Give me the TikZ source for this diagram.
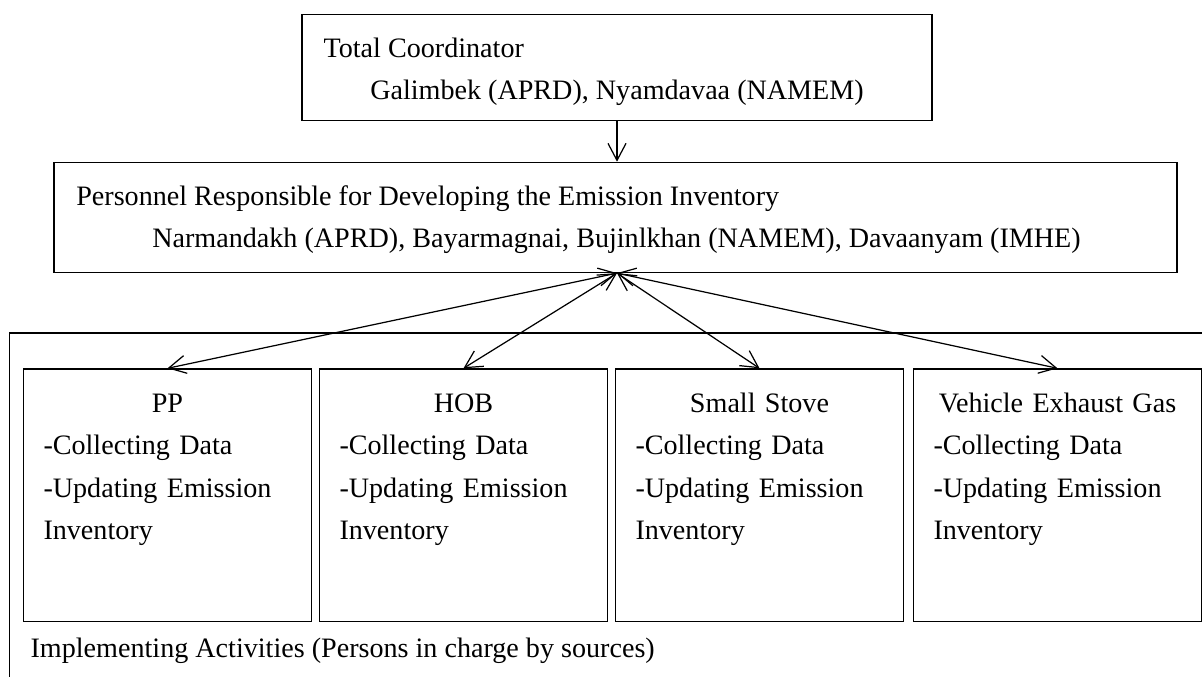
\documentclass[tikz,border=0pt]{standalone}
\usepackage{fontspec}
\setmainfont{Liberation Serif}
\usepackage{tikz}
\usetikzlibrary{arrows.meta,positioning,calc}

\begin{document}
\begin{tikzpicture}[
  line width=0.7pt,
  >={Straight Barb[length=3.4mm,width=3.6mm]},
  box/.style={rectangle, draw, inner sep=0pt},
  srcbox/.style={box, minimum width=5.76cm, minimum height=5.05cm, anchor=north},
  txt/.style={inner sep=0pt, font=\fontsize{16}{24.1}\selectfont},
  srctxt/.style={txt, text width=4.96cm, align=left, anchor=base west},
  arr/.style={<->}
]
\useasboundingbox (0,0) rectangle (24.04,-13.54);
\clip (0,0) rectangle (24.04,-13.54);

% coordinator
\node[box, minimum width=12.6cm, minimum height=2.12cm] (coord) at (12.34,-1.354) {};
\node[txt, anchor=base west] (coordhd) at (6.46,-1.16) {Total Coordinator};
\node[txt, anchor=base] (coordnm) at (12.34,-2.0) {Galimbek (APRD), Nyamdavaa (NAMEM)};

% personnel for the inventory
\node[box, minimum width=22.46cm, minimum height=2.204cm] (resp) at (12.31,-4.348) {};
\node[txt, anchor=base west] (resphd) at (1.514,-4.10) {Personnel Responsible for Developing the Emission Inventory};
\node[txt, anchor=base] (respnm) at (12.33,-4.94) {Narmandakh (APRD), Bayarmagnai, Bujinlkhan (NAMEM), Davaanyam (IMHE)};

\draw[->] (coord.south) -- (coord.south |- resp.north);

% implementing activities frame
\draw (25,-6.66) -- (0.19,-6.66) -- (0.19,-14);
\node[txt, anchor=base west] (impl) at (0.6,-13.15) {Implementing Activities (Persons in charge by sources)};

% source boxes
\node[srcbox] (pp)  at (3.35,-7.366) {};
\node[srcbox] (hob) at (9.27,-7.366) {};
\node[srcbox] (stove) at (15.19,-7.366) {};
\node[srcbox] (veh) at (21.15,-7.366) {};

\node[srctxt] at ($(pp.north west)+(0.4,-0.88)$) {\hfill PP\hfill\mbox{}\\-Collecting Data\\-Updating Emission\\Inventory};
\node[srctxt] at ($(hob.north west)+(0.4,-0.88)$) {\hfill HOB\hfill\mbox{}\\-Collecting Data\\-Updating Emission\\Inventory};
\node[srctxt] at ($(stove.north west)+(0.4,-0.88)$) {\hfill Small Stove\hfill\mbox{}\\-Collecting Data\\-Updating Emission\\Inventory};
\node[srctxt] at ($(veh.north west)+(0.4,-0.88)$) {\hfill Vehicle Exhaust Gas\hfill\mbox{}\\-Collecting Data\\-Updating Emission\\Inventory};

\coordinate (hub) at (coord.south |- resp.south);
\draw[arr] (hub) -- (pp.north);
\draw[arr] (hub) -- (hob.north);
\draw[arr] (hub) -- (stove.north);
\draw[arr] (hub) -- (veh.north);

\end{tikzpicture}
\end{document}
